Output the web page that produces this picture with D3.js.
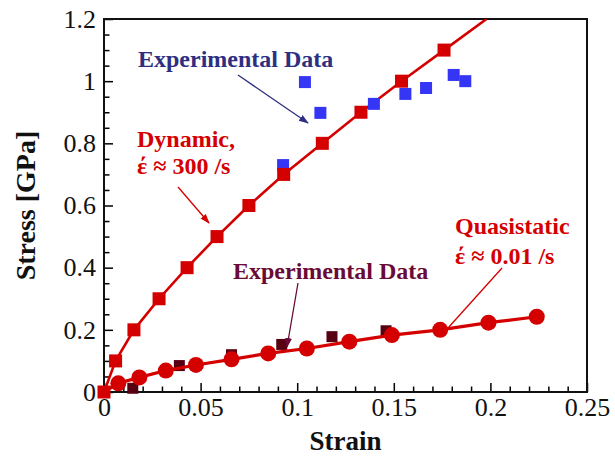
<!DOCTYPE html>
<html>
<head>
<meta charset="utf-8">
<script src="https://cdn.jsdelivr.net/npm/d3@7"></script>
<style>
  html, body { margin: 0; padding: 0; background: #fff; }
  svg { display: block; }
  text { font-family: "Liberation Serif", "Times New Roman", serif; }
</style>
</head>
<body>
<svg id="chart" width="615" height="457"></svg>
<script>
// Dynamic model (strain rate ~300 /s): squares joined by a line
const dynamicStrain = [0, 0.006, 0.0155, 0.0285, 0.043, 0.0585, 0.075, 0.093, 0.113, 0.133, 0.154, 0.176];
const dynamicStress = [0, 0.1, 0.2, 0.3, 0.4, 0.5, 0.6, 0.7, 0.8, 0.9, 1.0, 1.1];
// the fitted line runs on past the last square up to the top of the frame
const dynamicLineEndStrain = 0.198;
const dynamicLineEndStress = 1.2;

// Dynamic experiment
const dynExpStrain = [0.0927, 0.104, 0.112, 0.1397, 0.156, 0.1667, 0.181, 0.187];
const dynExpStress = [0.73, 0.997, 0.898, 0.927, 0.959, 0.978, 1.02, 1.0];

// Quasistatic model (strain rate ~0.01 /s): circles joined by a line from the origin
const quasiStrain = [0, 0.0074, 0.0183, 0.032, 0.0476, 0.066, 0.085, 0.105, 0.127, 0.149, 0.174, 0.199, 0.224];
const quasiStress = [0, 0.028, 0.047, 0.069, 0.087, 0.105, 0.124, 0.14, 0.162, 0.183, 0.2, 0.223, 0.242];

// Quasistatic experiment
const quasiExpStrain = [0.0149, 0.039, 0.066, 0.092, 0.118, 0.146];
const quasiExpStress = [0.012, 0.085, 0.12, 0.153, 0.178, 0.197];

// Axis ticks
const xTicks = [0, 0.05, 0.1, 0.15, 0.2, 0.25];
const xTickLabels = ["0", "0.05", "0.1", "0.15", "0.2", "0.25"];
const yTicks = [0, 0.2, 0.4, 0.6, 0.8, 1, 1.2];
const yTickLabels = ["0", "0.2", "0.4", "0.6", "0.8", "1", "1.2"];

const svg = d3.select("#chart");
const plotLeft = 104, plotRight = 587, plotTop = 19, plotBottom = 392;

const x = d3.scaleLinear().domain([0, 0.25]).range([plotLeft, plotRight]);
const y = d3.scaleLinear().domain([0, 1.2]).range([plotBottom, plotTop]);

const RED = "#d40000";
const BLUE = "#3535f5";
const MAROON = "#560012";
const NAVY = "#2e2f80";
const PLUM = "#6a0a36";

const defs = svg.append("defs");
defs.append("clipPath").attr("id", "plotClip")
  .append("rect").attr("x", plotLeft).attr("y", plotTop)
  .attr("width", plotRight - plotLeft).attr("height", plotBottom - plotTop);

function arrowHead(id, color) {
  defs.append("marker").attr("id", id)
    .attr("viewBox", "0 0 10 10").attr("refX", 9).attr("refY", 5)
    .attr("markerWidth", 10).attr("markerHeight", 10).attr("markerUnits", "userSpaceOnUse")
    .attr("orient", "auto")
    .append("path").attr("d", "M0,1.5 L10,5 L0,8.5 Z").attr("fill", color);
}
arrowHead("arrNavy", NAVY);
arrowHead("arrRed", RED);
arrowHead("arrPlum", PLUM);

// Axes: ticks point into the plot
const minorX = d3.range(0, 0.2501, 0.01).filter(v => !xTicks.some(t => Math.abs(t - v) < 1e-9));
const minorY = d3.range(0, 1.2001, 0.05).filter(v => !yTicks.some(t => Math.abs(t - v) < 1e-9));

const xAxis = svg.append("g").attr("transform", `translate(0,${plotBottom})`)
  .call(d3.axisBottom(x).tickValues(xTicks).tickFormat((d, i) => xTickLabels[i])
    .tickSizeInner(-9).tickSizeOuter(0).tickPadding(6));
svg.append("g").attr("transform", `translate(0,${plotBottom})`)
  .call(d3.axisBottom(x).tickValues(minorX).tickFormat("").tickSizeInner(-5.5).tickSizeOuter(0));

const yAxis = svg.append("g").attr("transform", `translate(${plotLeft},0)`)
  .call(d3.axisLeft(y).tickValues(yTicks).tickFormat((d, i) => yTickLabels[i])
    .tickSizeInner(-9).tickSizeOuter(0).tickPadding(8));
svg.append("g").attr("transform", `translate(${plotLeft},0)`)
  .call(d3.axisLeft(y).tickValues(minorY).tickFormat("").tickSizeInner(-5.5).tickSizeOuter(0));

svg.selectAll(".tick line").attr("stroke", "#000").attr("stroke-width", 1.5);
svg.selectAll(".domain").remove();
[xAxis, yAxis].forEach(g => g.selectAll("text")
  .attr("font-family", "'Liberation Serif', 'Times New Roman', serif")
  .attr("font-size", 26).attr("fill", "#111"));

// Frame
svg.append("rect").attr("x", plotLeft).attr("y", plotTop)
  .attr("width", plotRight - plotLeft).attr("height", plotBottom - plotTop)
  .attr("fill", "none").attr("stroke", "#111").attr("stroke-width", 2);

// Axis titles
svg.append("text").attr("x", (plotLeft + plotRight) / 2).attr("y", 450)
  .attr("text-anchor", "middle").attr("font-weight", "bold").attr("font-size", 27)
  .attr("fill", "#111").text("Strain");
svg.append("text")
  .attr("transform", `translate(35,${(plotTop + plotBottom) / 2}) rotate(-90)`)
  .attr("text-anchor", "middle").attr("font-weight", "bold").attr("font-size", 28)
  .attr("fill", "#111").text("Stress [GPa]");

const plot = svg.append("g").attr("clip-path", "url(#plotClip)");

// Experimental data
svg.append("g").selectAll("rect").data(dynExpStrain.map((s, i) => [s, dynExpStress[i]]))
  .join("rect")
  .attr("x", d => x(d[0]) - 6).attr("y", d => y(d[1]) - 6)
  .attr("width", 12).attr("height", 12).attr("fill", BLUE);

svg.append("g").selectAll("rect").data(quasiExpStrain.map((s, i) => [s, quasiExpStress[i]]))
  .join("rect")
  .attr("x", d => x(d[0]) - 5.5).attr("y", d => y(d[1]) - 5.5)
  .attr("width", 11).attr("height", 11).attr("fill", MAROON);

// Model lines
const line = d3.line().x(d => x(d[0])).y(d => y(d[1]));
const dynPts = dynamicStrain.map((s, i) => [s, dynamicStress[i]]);
plot.append("path")
  .datum(dynPts.concat([[dynamicLineEndStrain, dynamicLineEndStress]]))
  .attr("d", line).attr("fill", "none").attr("stroke", RED).attr("stroke-width", 2.6);

const quasiPts = quasiStrain.map((s, i) => [s, quasiStress[i]]);
svg.append("path").datum(quasiPts)
  .attr("d", line).attr("fill", "none").attr("stroke", RED).attr("stroke-width", 3.2);

svg.append("g").selectAll("circle").data(quasiPts.slice(1)).join("circle")
  .attr("cx", d => x(d[0])).attr("cy", d => y(d[1])).attr("r", 8).attr("fill", RED);

svg.append("g").selectAll("rect").data(dynPts).join("rect")
  .attr("x", d => x(d[0]) - 6.5).attr("y", d => y(d[1]) - 6.5)
  .attr("width", 13).attr("height", 13).attr("fill", RED);

// Annotations
function label(lines, x0, y0, color, size, lh) {
  const t = svg.append("text").attr("font-weight", "bold").attr("font-size", size).attr("fill", color);
  lines.forEach((s, i) => t.append("tspan").attr("x", x0).attr("y", y0 + i * lh).text(s));
}
function arrow(x1, y1, x2, y2, color, marker, w) {
  const p = svg.append("line").attr("x1", x1).attr("y1", y1).attr("x2", x2).attr("y2", y2)
    .attr("stroke", color).attr("stroke-width", w);
  if (marker) p.attr("marker-end", `url(#${marker})`);
}

label(["Experimental Data"], 138, 67, NAVY, 24, 0);
arrow(238, 75, 308, 123, NAVY, "arrNavy", 1.3);

label(["Dynamic,", "έ ≈ 300 /s"], 137, 147, RED, 24, 27);
arrow(178, 187, 209, 223, RED, "arrRed", 1.3);

label(["Experimental Data"], 233, 279, PLUM, 24, 0);
arrow(298, 283, 287, 347, PLUM, "arrPlum", 1.3);

label(["Quasistatic", "έ ≈ 0.01 /s"], 455, 234, RED, 24, 30);
arrow(502, 268, 448, 328, RED, null, 1.3);
</script>
</body>
</html>
